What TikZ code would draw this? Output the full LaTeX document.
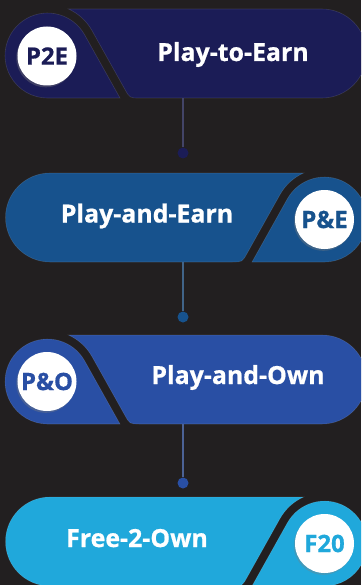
\documentclass[tikz,border=0pt]{standalone}
\usepackage{fontspec}
\setmainfont{Open Sans}[BoldFeatures={FakeBold=0.7}]
\usetikzlibrary{shadows}

\definecolor{bgdark}{HTML}{221F20}
\definecolor{pnavy}{HTML}{1B1C56}
\definecolor{pblue}{HTML}{17528D}
\definecolor{proyal}{HTML}{294FA4}
\definecolor{psky}{HTML}{20A8DB}

\newcommand\titlefont{\fontsize{25}{25}\selectfont\bfseries}
\newcommand\badgefont{\fontsize{24}{24}\selectfont\bfseries}

% One stage: a round-ended bar with a separate lobe cut off by an S-shaped gap.
% #1 = placement (shift / mirror), #2 = fill colour
\newcommand\pill[2]{%
  \begin{scope}[#1]
    % lobe that carries the badge
    \fill[#2, rim] (120,89) -- (84.6,25.76)
      arc[start angle=-29.24, end angle=-270, radius=42.5] -- cycle;
    % main bar
    \fill[#2, rim] (68.44,0)
      arc[start angle=-65.76, end angle=-29.24, radius=51]
      -- (124.86,80.27) .. controls (129.74,89) .. (139.74,89)
      -- (322,89) arc[start angle=90, end angle=-90, radius=44.5] -- cycle;
  \end{scope}}

\begin{document}
\begin{tikzpicture}[x=1bp, y=-1bp,
  rim/.style={draw=white, draw opacity=0.12, line width=0.6bp},
  title/.style={text=white, font=\titlefont, anchor=base, inner sep=0pt},
  badge/.style={circle, fill=white, minimum size=59bp, inner sep=0pt,
    font=\badgefont, text=#1,
    drop shadow={shadow xshift=-1.2bp, shadow yshift=-1.8bp, opacity=0.35}},
  link/.style={line width=2bp},
  joint/.style={circle, inner sep=0pt, minimum size=11bp}]

\useasboundingbox (0,0) rectangle (361,585);
\fill[bgdark] (0,0) rectangle (361,585);
\clip (0,0) rectangle (361,585);

% stage bars
\pill{shift={(0,9)}}{pnavy}
\pill{shift={(372,173)}, xscale=-1}{pblue}
\pill{shift={(0,335)}}{proyal}
\pill{shift={(372,497)}, xscale=-1}{psky}

% titles
\node[title] (t1) at (233,61) {Play-to-Earn};
\node[title] (t2) at (147,222.5) {Play-and-Earn};
\node[title] (t3) at (238,384) {Play-and-Own};
\node[title] (t4) at (137,547) {Free-2-Own};

% badges
\node[badge=pnavy] (b1) at (47,56) {P2E};
\node[badge=pblue] (b2) at (324.5,219.5) {P\&E};
\node[badge=proyal] (b3) at (47,381.5) {P\&O};
\node[badge=psky] (b4) at (324.5,543.5) {F20};

% connectors between stages
\coordinate (s1) at (183,98);
\coordinate (s2) at (183,262);
\coordinate (s3) at (183,424);
\node[joint, fill=pnavy] (j1) at (183,153) {};
\node[joint, fill=pblue] (j2) at (183,317) {};
\node[joint, fill=proyal] (j3) at (183,483) {};
\draw[link, draw=pnavy!60!gray] (s1) -- (j1);
\draw[link, draw=pblue!60!gray] (s2) -- (j2);
\draw[link, draw=proyal!60!gray] (s3) -- (j3);
\end{tikzpicture}
\end{document}
